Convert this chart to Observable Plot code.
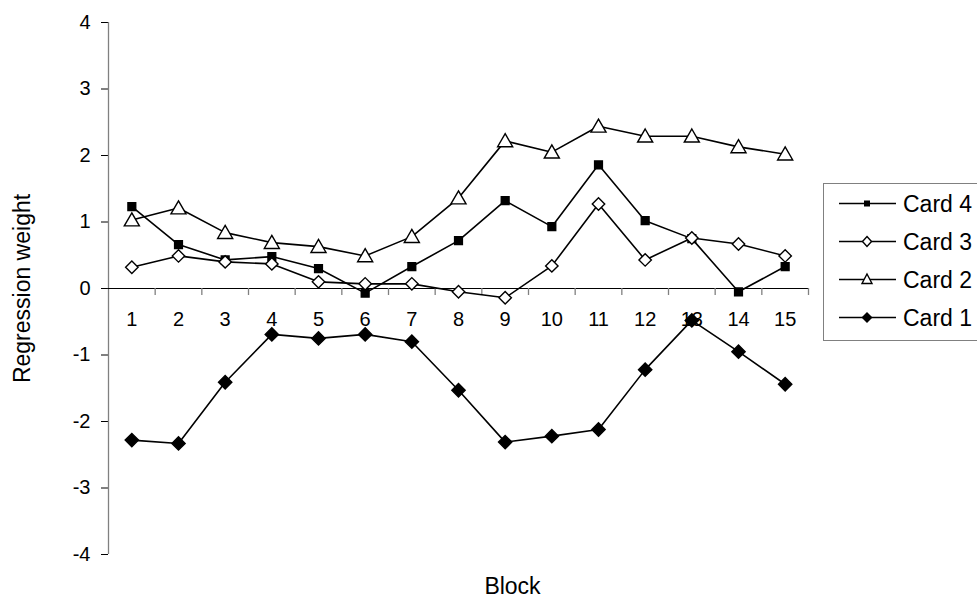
<!DOCTYPE html>
<html>
<head>
<meta charset="utf-8">
<script src="https://cdn.jsdelivr.net/npm/d3@7"></script>
<script src="https://cdn.jsdelivr.net/npm/@observablehq/plot@0.6"></script>
<style>
  html, body { margin: 0; padding: 0; background: #fff; }
  #wrap { position: relative; width: 977px; height: 608px; overflow: hidden; font-family: "Liberation Sans", Arial, sans-serif; }
  #legend { position: absolute; left: 823px; top: 183px; width: 200px; height: 158px; border: 1px solid #808080; border-right: none; box-sizing: border-box; }
  .row { position: absolute; left: 0; height: 38px; display: flex; align-items: center; }
  .row svg { margin-left: 15px; }
  .row span { margin-left: 7px; font-size: 23px; color: #000; }
</style>
</head>
<body>
<div id="wrap"></div>
<script>
const blocks = [1, 2, 3, 4, 5, 6, 7, 8, 9, 10, 11, 12, 13, 14, 15];
const card4 = [1.23, 0.66, 0.43, 0.48, 0.30, -0.07, 0.33, 0.72, 1.32, 0.93, 1.86, 1.02, 0.75, -0.05, 0.33];
const card3 = [0.32, 0.49, 0.40, 0.37, 0.10, 0.07, 0.07, -0.05, -0.14, 0.34, 1.27, 0.43, 0.76, 0.67, 0.49];
const card2 = [1.03, 1.21, 0.84, 0.69, 0.63, 0.49, 0.78, 1.36, 2.22, 2.05, 2.44, 2.29, 2.29, 2.13, 2.02];
const card1 = [-2.28, -2.33, -1.41, -0.69, -0.75, -0.69, -0.80, -1.53, -2.31, -2.22, -2.12, -1.22, -0.48, -0.95, -1.44];
const seriesNames = ["Card 4", "Card 3", "Card 2", "Card 1"];
const yTicks = [-4, -3, -2, -1, 0, 1, 2, 3, 4];
const xLabel = "Block";
const yLabel = "Regression weight";

const seriesValues = [card4, card3, card2, card1];
const styles = {
  "Card 4": {symbol: "square", fill: "black", r: 4.4},
  "Card 3": {symbol: "diamond2", fill: "white", r: 5.6},
  "Card 2": {symbol: "triangle", fill: "white", r: 5.6},
  "Card 1": {symbol: "diamond2", fill: "black", r: 6.0}
};
const rows = seriesNames.flatMap((name, k) =>
  blocks.map((b, i) => ({series: name, block: b, value: seriesValues[k][i]})));
const boundaries = blocks.map(b => b + 0.5);

const marks = [
  Plot.ruleX([0.5], {stroke: "#808080", strokeWidth: 1.3}),
  Plot.ruleY([0], {stroke: "black", strokeWidth: 1.2}),
  Plot.ruleX(boundaries, {x: d => d, y: 0, insetTop: 0, insetBottom: -7, stroke: "#808080", strokeWidth: 1.3}),
  Plot.text(blocks, {x: d => d, y: 0, dy: 31, text: d => String(d), fontSize: 20, fill: "black"}),
  Plot.text([yLabel], {frameAnchor: "left", textAnchor: "middle", rotate: -90, dx: -86, fontSize: 23, fill: "black"}),
  Plot.text([xLabel], {frameAnchor: "bottom", textAnchor: "middle", dx: 54, dy: 39, fontSize: 23, fill: "black"})
];
for (const name of seriesNames) {
  const data = rows.filter(d => d.series === name);
  marks.push(Plot.line(data, {x: "block", y: "value", stroke: "black", strokeWidth: 1.6}));
}
for (const name of seriesNames) {
  const data = rows.filter(d => d.series === name);
  const s = styles[name];
  marks.push(Plot.dot(data, {x: "block", y: "value", symbol: () => s.symbol, r: s.r, fill: s.fill, stroke: "black", strokeWidth: 1.4, dy: s.symbol === "triangle" ? 1.5 : 0}));
}

const chart = Plot.plot({
  width: 977,
  height: 608,
  marginLeft: 108,
  marginRight: 169,
  marginTop: 22,
  marginBottom: 54,
  style: {fontFamily: "Liberation Sans, Arial, sans-serif", fontSize: "20px", background: "white", color: "black"},
  x: {domain: [0.5, 15.5], axis: null},
  y: {domain: [-4, 4], ticks: yTicks, tickFormat: d => String(d), tickSize: 7, tickPadding: 11, label: null},
  symbol: {type: "identity"},
  marks
});
const wrap = document.getElementById("wrap");
wrap.appendChild(chart);

// legend
const legend = document.createElement("div");
legend.id = "legend";
const legendSymbol = {
  "Card 4": '<rect x="25" y="15.5" width="6" height="6" fill="black"/>',
  "Card 3": '<path d="M28 13.5 L32.5 18.5 L28 23.5 L23.5 18.5 Z" fill="white" stroke="black" stroke-width="1.4"/>',
  "Card 2": '<path d="M28 13 L33 22.5 L23 22.5 Z" fill="white" stroke="black" stroke-width="1.4"/>',
  "Card 1": '<path d="M28 13 L33.5 18.5 L28 24 L22.5 18.5 Z" fill="black"/>'
};
seriesNames.forEach((name, k) => {
  const row = document.createElement("div");
  row.className = "row";
  row.style.top = (1 + 38 * k) + "px";
  row.innerHTML = '<svg width="57" height="38"><line x1="0" x2="57" y1="18.5" y2="18.5" stroke="black" stroke-width="1.6"/>' + legendSymbol[name] + '</svg><span>' + name + '</span>';
  legend.appendChild(row);
});
wrap.appendChild(legend);
</script>
</body>
</html>
